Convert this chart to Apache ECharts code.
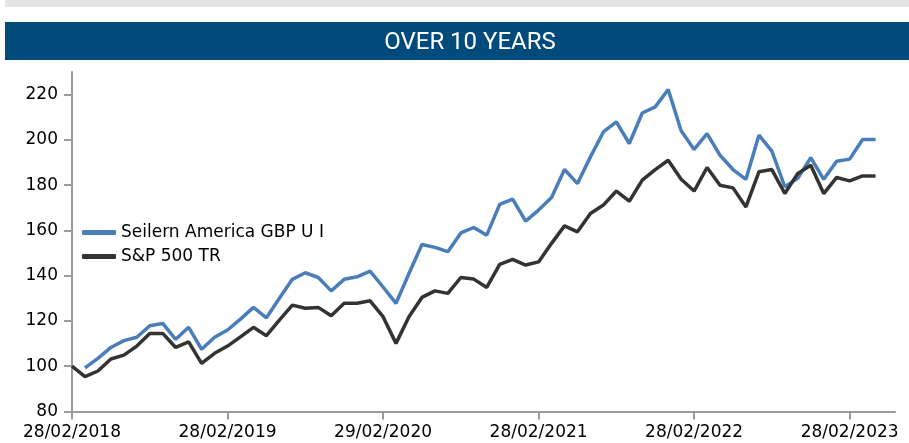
<!DOCTYPE html>
<html>
<head>
<meta charset="UTF-8">
<title>Over 10 years</title>
<style>
  html, body { margin: 0; padding: 0; background: #fff; }
  #chart { width: 909px; height: 443px; }
</style>
</head>
<body>
<div id="chart"></div>
<script src="https://cdn.jsdelivr.net/npm/echarts@6/dist/echarts.min.js"></script>
<script>
// month index 0 = 28/02/2018
var tickMonths = [0, 12, 24, 36, 48, 60];
var tickLabels = ['28/02/2018', '28/02/2019', '29/02/2020', '28/02/2021', '28/02/2022', '28/02/2023'];
var yTicks = [80, 100, 120, 140, 160, 180, 200, 220];

var fundName = 'Seilern America GBP U I';
var indexName = 'S&P 500 TR';

var fundValues = [
  null, 99.3, 103.5, 108.3, 111.3, 112.8, 117.9, 118.9, 111.9, 117.2, 107.5, 112.8,
  116, 120.8, 126, 121.4, 130, 138.4, 141.3, 139.2, 133.3, 138.4, 139.5, 142,
  135, 127.8, 141, 153.8, 152.5, 150.6, 158.9, 161.3, 157.9, 171.5, 173.8, 164.1,
  169, 174.6, 186.9, 180.7, 192.5, 203.5, 208, 198.4, 211.9, 214.6, 222.3, 204,
  195.8, 202.8, 193.2, 186.9, 182.6, 202.1, 195, 179.3, 183, 192.2, 182.6, 190.6,
  191.5, 200.2, 200.2
];
var indexValues = [
  100, 95.4, 97.9, 103.2, 104.9, 108.9, 114.5, 114.5, 108.3, 110.8, 101.3, 105.7,
  108.9, 113, 117.2, 113.5, 120.4, 127, 125.6, 126, 122.3, 127.8, 127.8, 128.9,
  121.9, 110.1, 121.9, 130.4, 133.3, 132.2, 139.2, 138.5, 134.8, 145, 147.2, 144.7,
  146.1, 154.3, 162, 159.4, 167.5, 171.2, 177.4, 172.9, 182.2, 186.9, 191, 182.6,
  177.4, 187.8, 180, 178.8, 170.4, 185.9, 186.9, 176.3, 185.2, 188.8, 176.3, 183.4,
  181.9, 184.1, 184.1
];

function pairs(vals) {
  var out = [];
  for (var i = 0; i < vals.length; i++) {
    out.push([i, vals[i]]);
  }
  return out;
}

var font = 'DejaVu Sans, sans-serif';
var myChart = echarts.init(document.getElementById('chart'));
var option = {
  animation: false,
  graphic: [
    { type: 'rect', shape: { x: 5, y: 0, width: 904, height: 7 }, style: { fill: '#e5e5e5' } },
    { type: 'rect', shape: { x: 5, y: 22, width: 904, height: 38 }, style: { fill: '#004a7c' } }
  ],
  title: {
    text: 'OVER 10 YEARS',
    left: 465,
    textAlign: 'center',
    top: 26,
    textStyle: {
      color: '#fff',
      fontFamily: 'Roboto, sans-serif',
      fontWeight: 'normal',
      fontSize: 24
    }
  },
  legend: {
    orient: 'vertical',
    left: 77,
    top: 219,
    itemWidth: 34,
    itemHeight: 5,
    itemGap: 7,
    icon: 'roundRect',
    textStyle: { fontFamily: font, fontSize: 17, color: '#000', lineHeight: 16 },
    data: [fundName, indexName]
  },
  grid: { left: 72, right: 14, top: 72, bottom: 31.5, containLabel: false },
  xAxis: {
    type: 'value',
    min: 0,
    max: 63.5,
    axisLine: { lineStyle: { color: '#9a9a9a', width: 2 } },
    axisTick: { show: true, length: 8, lineStyle: { color: '#9a9a9a', width: 2 }, customValues: tickMonths },
    splitLine: { show: false },
    axisLabel: {
      customValues: tickMonths,
      color: '#000',
      fontFamily: font,
      fontSize: 17,
      margin: 13,
      formatter: function (v) {
        var k = tickMonths.indexOf(v);
        return k >= 0 ? tickLabels[k] : '';
      }
    }
  },
  yAxis: {
    type: 'value',
    min: 80,
    max: 230,
    axisLine: { show: true, lineStyle: { color: '#9a9a9a', width: 2 } },
    axisTick: { show: true, length: 8, lineStyle: { color: '#9a9a9a', width: 2 }, customValues: yTicks },
    splitLine: { show: false },
    axisLabel: {
      customValues: yTicks,
      color: '#000',
      fontFamily: font,
      fontSize: 17,
      margin: 14
    }
  },
  series: [
    {
      name: fundName,
      type: 'line',
      data: pairs(fundValues),
      showSymbol: false,
      symbol: 'none',
      lineStyle: { color: '#4a7ebb', width: 3.5 },
      itemStyle: { color: '#4a7ebb' },
      z: 2
    },
    {
      name: indexName,
      type: 'line',
      data: pairs(indexValues),
      showSymbol: false,
      symbol: 'none',
      lineStyle: { color: '#333333', width: 3.5 },
      itemStyle: { color: '#333333' },
      z: 3
    }
  ]
};
myChart.setOption(option);
</script>
</body>
</html>
